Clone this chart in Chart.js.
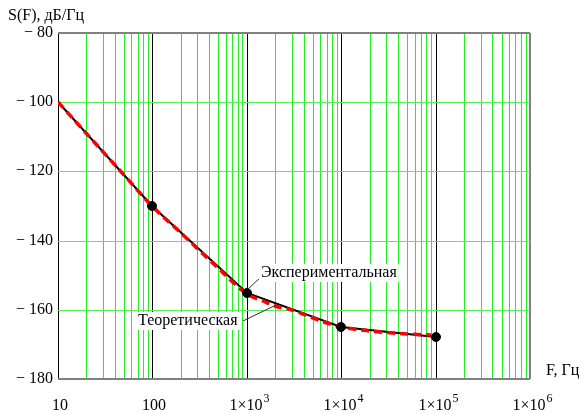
<!DOCTYPE html>
<html>
<head>
<meta charset="utf-8">
<script src="https://cdn.jsdelivr.net/npm/chart.js@4"></script>
<style>
  body { margin: 0; background: #fff; }
  #wrap { width: 584px; height: 414px; }
</style>
</head>
<body>
<div id="wrap"><canvas id="spectrumChart"></canvas></div>
<script>
const expFreq = [10, 100, 1000, 10000, 100000];
const expLevel = [-100, -130, -155, -165, -168];

const theoFreq = [10, 20, 50, 100, 200, 500, 1000, 1500, 2000, 3000, 5000, 7000, 10000, 20000, 50000, 90000];
const theoLevel = [-100, -109, -121, -130, -137.7, -147.9, -155.3, -157.5, -158.8, -160.2, -162.3, -163.8, -165, -166, -167, -167.4];

const decades = [10, 100, 1000, 10000, 100000, 1000000];
const xTickLabels = ['10', '100', '1×10|3', '1×10|4', '1×10|5', '1×10|6'];
const yTicks = [-80, -100, -120, -140, -160, -180];

const serif = '"Liberation Serif", "Times New Roman", serif';

// grid values: 1..9 times each decade
const gridValues = [];
decades.forEach((d, i) => {
  if (i === decades.length - 1) { gridValues.push(d); return; }
  for (let k = 1; k <= 9; k++) gridValues.push(d * k);
});

const labelsPlugin = {
  id: 'labels',
  afterDraw(chart) {
    const { ctx, scales: { x, y } } = chart;
    ctx.save();
    ctx.fillStyle = '#000';

    // y tick labels
    ctx.font = '16px ' + serif;
    ctx.textAlign = 'right';
    ctx.textBaseline = 'middle';
    yTicks.forEach((v) => {
      ctx.fillText('− ' + Math.abs(v), 53, y.getPixelForValue(v));
    });

    // x tick labels with superscript
    decades.forEach((d, i) => {
      const [base, sup] = xTickLabels[i].split('|');
      const px = x.getPixelForValue(d);
      ctx.textBaseline = 'alphabetic';
      ctx.font = '16px ' + serif;
      const wb = ctx.measureText(base).width;
      let ws = 0;
      if (sup) {
        ctx.font = '12px ' + serif;
        ws = ctx.measureText(sup).width;
      }
      const left = px - (wb + ws) / 2 + 2;
      ctx.font = '16px ' + serif;
      ctx.textAlign = 'left';
      ctx.fillText(base, left, 410);
      if (sup) {
        ctx.font = '12px ' + serif;
        ctx.fillText(sup, left + wb + 1, 402);
      }
    });

    // axis titles
    ctx.font = '16px ' + serif;
    ctx.textAlign = 'left';
    ctx.textBaseline = 'middle';
    ctx.fillText('S(F), дБ/Гц', 8, 16);
    ctx.fillText('F, Гц', 546, 371);

    // annotations
    const notes = [
      { text: 'Экспериментальная', tx: 261, ty: 273, from: [248, 289], to: [261, 277] },
      { text: 'Теоретическая', tx: 138, ty: 321, from: [276, 305], to: [243, 321] },
    ];
    notes.forEach((n) => {
      ctx.strokeStyle = '#333';
      ctx.lineWidth = 1;
      ctx.beginPath();
      ctx.moveTo(n.from[0], n.from[1]);
      ctx.lineTo(n.to[0], n.to[1]);
      ctx.stroke();
      const w = ctx.measureText(n.text).width;
      ctx.fillStyle = '#fff';
      ctx.fillRect(n.tx - 2, n.ty - 9, w + 4, 18);
      ctx.fillStyle = '#000';
      ctx.fillText(n.text, n.tx, n.ty);
    });
    ctx.restore();
  },
};

new Chart(document.getElementById('spectrumChart'), {
  type: 'scatter',
  data: {
    datasets: [
      {
        label: 'Экспериментальная (точки)',
        data: expFreq.map((f, i) => ({ x: f, y: expLevel[i] })),
        showLine: false,
        pointRadius: [0, 4.5, 4.5, 4.5, 4.5],
        pointBackgroundColor: '#000',
        pointBorderColor: '#000',
        order: 0,
      },
      {
        label: 'Теоретическая',
        data: theoFreq.map((f, i) => ({ x: f, y: theoLevel[i] })),
        showLine: true,
        borderColor: '#ff0000',
        borderWidth: 3.5,
        borderDash: [8, 5],
        pointRadius: 0,
        cubicInterpolationMode: 'monotone',
        order: 1,
      },
      {
        label: 'Экспериментальная',
        data: expFreq.map((f, i) => ({ x: f, y: expLevel[i] })),
        showLine: true,
        borderColor: '#000',
        borderWidth: 2,
        pointRadius: 0,
        order: 2,
      },
    ],
  },
  options: {
    responsive: true,
    maintainAspectRatio: false,
    animation: false,
    layout: { padding: { left: 58, right: 54, top: 33, bottom: 35 } },
    plugins: { legend: { display: false }, tooltip: { enabled: false } },
    scales: {
      x: {
        type: 'logarithmic',
        min: 10,
        max: 1000000,
        alignToPixels: true,
        afterBuildTicks: (scale) => {
          scale.ticks = gridValues.map((v) => ({ value: v }));
        },
        ticks: { display: false },
        border: { display: false },
        grid: {
          drawTicks: false,
          color: (c) => {
            const v = c.tick.value;
            if (v === 1000000) return '#808080';
            return decades.includes(v) ? '#000' : '#22ee22';
          },
          lineWidth: (c) => (c.tick.value === 1000000 ? 2 : 1),
        },
      },
      y: {
        min: -180,
        max: -80,
        alignToPixels: true,
        afterBuildTicks: (scale) => {
          scale.ticks = yTicks.map((v) => ({ value: v }));
        },
        ticks: { display: false },
        border: { display: false },
        grid: {
          drawTicks: false,
          color: (c) => (c.tick.value === -80 || c.tick.value === -180 ? '#808080' : '#55ee55'),
          lineWidth: (c) => (c.tick.value === -80 || c.tick.value === -180 ? 2 : 1),
        },
      },
    },
  },
  plugins: [labelsPlugin],
});
</script>
</body>
</html>
